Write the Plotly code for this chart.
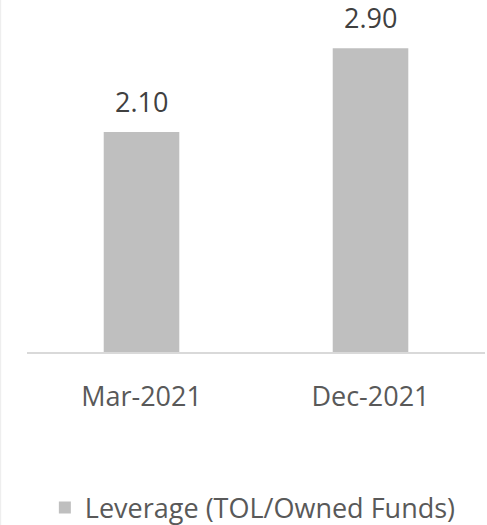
import plotly.graph_objects as go

categories = ["Mar-2021", "Dec-2021"]
values = [2.10, 2.90]
series_name = "Leverage (TOL/Owned Funds)"

fig = go.Figure()
fig.add_trace(go.Bar(
    x=categories, y=values, name=series_name,
    marker=dict(color="#bfbfbf", line=dict(width=0)),
))

for c, v in zip(categories, values):
    fig.add_annotation(x=c, y=v, text=f"{v:.2f}", showarrow=False,
                       yanchor="middle", yshift=31,
                       font=dict(family="Open Sans", size=27, color="#404040"))

fig.update_layout(
    width=487, height=525,
    margin=dict(l=27, r=2, t=0, b=173, autoexpand=False),
    paper_bgcolor="white", plot_bgcolor="white",
    bargap=0.67,
    showlegend=True,
    legend=dict(orientation="h", x=0.039, xanchor="left", y=-0.443, yanchor="middle",
                font=dict(family="Open Sans", size=27, color="#595959")),
    xaxis=dict(showline=True, linecolor="#d9d9d9", linewidth=2, ticks="",
               ticklabelstandoff=20,
               tickfont=dict(family="Open Sans", size=27, color="#595959")),
    yaxis=dict(range=[0, 3.36], visible=False, showgrid=False),
    shapes=[dict(type="line", xref="paper", yref="paper", x0=-0.058, x1=-0.058, y0=-0.5, y1=1,
                 line=dict(color="#eeeeee", width=1.5))],
)

fig.write_html("out.html", config={"displayModeBar": False},
               post_script="document.body.style.margin='0px';")
